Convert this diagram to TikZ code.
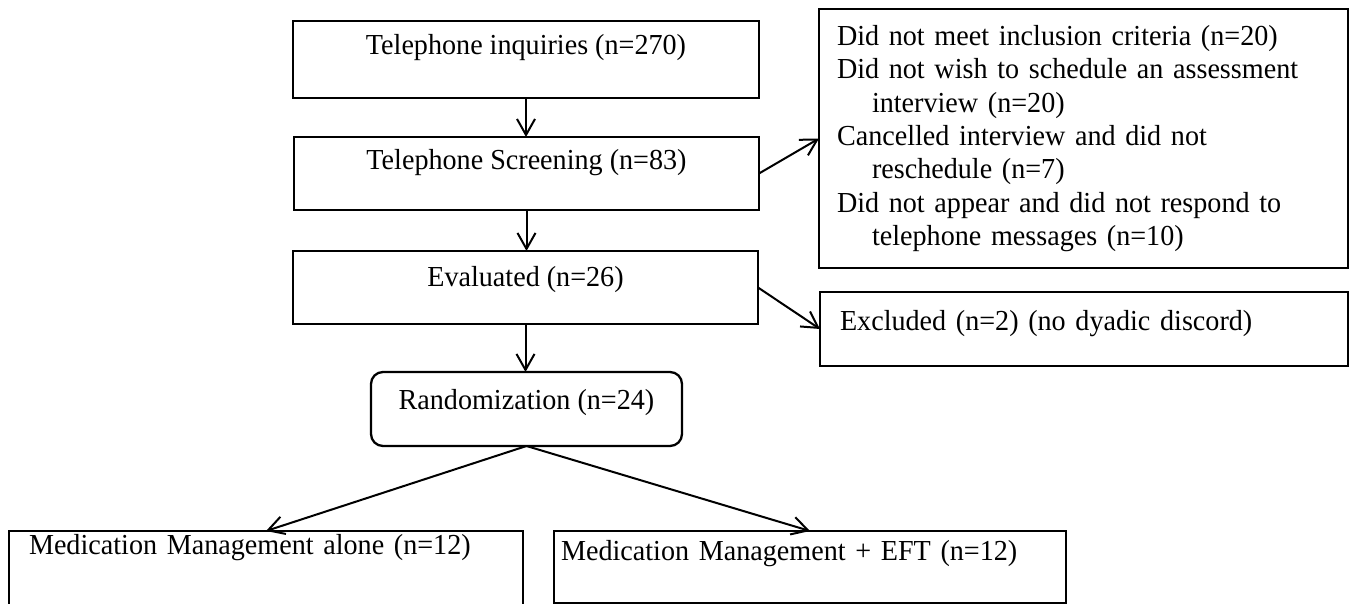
\documentclass[tikz,border=0pt]{standalone}
\usepackage{fontspec}
\setmainfont{Liberation Serif}[FakeStretch=0.97]
\usetikzlibrary{arrows.meta}
\begin{document}
\begin{tikzpicture}[x=1pt,y=-1pt,
  every node/.style={font=\fontsize{29}{33.3}\selectfont, inner ysep=0pt, outer sep=0pt},
  box/.style={draw, line width=2.3pt, anchor=north west},
  flow/.style={line width=2pt, -{Straight Barb[length=16pt,width=18pt]}},
]
\useasboundingbox (0,0) rectangle (1355,604);
\clip (0,0) rectangle (1355,604);

% main column
\node[box, minimum width=466pt, minimum height=77pt, text height=34pt, text depth=43pt]
  (inq) at (293,21) {Telephone inquiries (n=270)};
\node[box, minimum width=465pt, minimum height=73pt, text height=33pt, text depth=40pt]
  (scr) at (294,137) {Telephone Screening (n=83)};
\node[box, minimum width=465pt, minimum height=73pt, text height=35pt, text depth=38pt]
  (eva) at (293,251) {Evaluated (n=26)};
\node[box, rounded corners=12pt, minimum width=311pt, minimum height=74pt, text height=37pt, text depth=37pt]
  (rnd) at (371,372) {Randomization (n=24)};

% side boxes
\node[box, minimum width=529pt, minimum height=259pt, text width=493pt, inner xsep=18pt, align=left]
  (lost) at (819,9) {Did not meet inclusion criteria (n=20)\\
  Did not wish to schedule an assessment\\
  \hspace*{35pt}interview (n=20)\\
  Cancelled interview and did not\\
  \hspace*{35pt}reschedule (n=7)\\
  Did not appear and did not respond to\\
  \hspace*{35pt}telephone messages (n=10)};
\node[box, minimum width=528pt, minimum height=74pt, text width=488pt, inner xsep=20pt, align=left, text height=38pt, text depth=36pt]
  (exc) at (820,292) {Excluded (n=2) (no dyadic discord)};

% study arms
\node[box, minimum width=514pt, minimum height=120pt, text width=474pt, inner xsep=20pt, align=left, text height=23pt, text depth=97pt]
  (mma) at (9,531) {Medication Management alone (n=12)};
\node[box, minimum width=512pt, minimum height=72pt, text width=498pt, inner xsep=7pt, align=left, text height=29pt, text depth=43pt]
  (mme) at (554,531) {Medication Management + EFT (n=12)};

% connectors
\draw[flow] (inq.south) -- (inq.south |- scr.north);
\draw[flow] (scr.south) -- (scr.south |- eva.north);
\draw[flow] (eva.south) -- (eva.south |- rnd.north);
\draw[flow] (scr.east) -- (lost.west);
\draw[flow] (eva.east) -- (exc.west);
\draw[flow] (rnd.south) -- (mma.north);
\draw[flow] (rnd.south) -- (mme.north);
\end{tikzpicture}
\end{document}
